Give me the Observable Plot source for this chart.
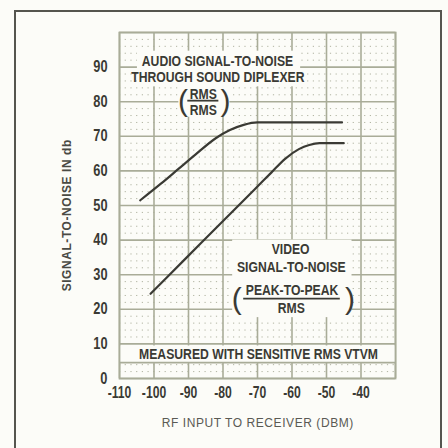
<!DOCTYPE html>
<html>
<head>
<meta charset="utf-8">
<script src="https://cdn.jsdelivr.net/npm/d3@7"></script>
<script src="https://cdn.jsdelivr.net/npm/@observablehq/plot@0.6"></script>
<style>
  html, body { margin: 0; padding: 0; background: #fcfcf8; }
  #chart { width: 448px; height: 448px; }
</style>
</head>
<body>
<div id="chart"></div>
<script>
// ---- data ----
const xTickValues = [-110, -100, -90, -80, -70, -60, -50, -40];
const yTickValues = [0, 10, 20, 30, 40, 50, 60, 70, 80, 90];

// Audio S/N through sound diplexer (RMS/RMS)
const audioRf = [-104, -98, -93, -88, -82, -78, -74, -70, -60, -45.5];
const audioSn = [51.5, 56.3, 60.5, 64.7, 69.5, 71.8, 73.3, 74, 74, 74];

// Video S/N (peak-to-peak / RMS)
const videoRf = [-101, -91, -81, -71, -66, -62, -58, -55, -52, -45];
const videoSn = [24.5, 34.5, 44.5, 54.5, 59.5, 63.5, 66.3, 67.5, 68, 68];

// annotation text lines and their anchors (data units)
const noteText = ["AUDIO SIGNAL-TO-NOISE", "THROUGH SOUND DIPLEXER", "RMS", "RMS",
                  "VIDEO", "SIGNAL-TO-NOISE", "PEAK-TO-PEAK", "RMS",
                  "MEASURED WITH SENSITIVE RMS VTVM"];
const noteX = [-81.6, -81.5, -85.7, -85.7, -60.4, -60.2, -60.0, -60.2, -69.7];
const noteY = [91.8, 86.9, 82.2, 77.6, 37.2, 32.0, 25.4, 20.2, 7.1];
const axisTitles = ["SIGNAL-TO-NOISE IN db", "RF INPUT TO RECEIVER (DBM)"];

// parentheses around the two ratios
const parenText = ["(", ")", "(", ")"];
const parenX = [-91.6, -79.3, -76.0, -43.2];
const parenY = [80.0, 80.0, 22.8, 22.8];

// fraction bars
const barX1 = [-90.2, -74.0];
const barX2 = [-81.2, -46.0];
const barY = [80.3, 23.1];

// blank (white) label areas on the grid paper
const boxX1 = [-104.8, -92.8, -77.2, -110];
const boxX2 = [-57.5, -78.0, -42.6, -30];
const boxY1 = [84.3, 75.5, 17.6, 4.6];
const boxY2 = [94.6, 84.5, 40.0, 9.4];

// ---- tables built from the arrays ----
const audio = audioRf.map((x, i) => ({x, y: audioSn[i]}));
const video = videoRf.map((x, i) => ({x, y: videoSn[i]}));
const notes = noteText.map((t, i) => ({t, x: noteX[i], y: noteY[i]}));
const parens = parenText.map((t, i) => ({t, x: parenX[i], y: parenY[i]}));
const bars = barY.map((y, i) => ({x1: barX1[i], x2: barX2[i], y}));
const boxes = boxX1.map((x1, i) => ({x1, x2: boxX2[i], y1: boxY1[i], y2: boxY2[i]}));
const minorY = d3.range(2, 100, 2).filter(v => v % 10 !== 0);
const majorX = d3.range(-110, -29, 10);
const majorY = d3.range(0, 101, 10);

const FONT = "'Liberation Sans', Arial, sans-serif";
const gridColor = "#a9ac98";
const ink = "#3a3a34";

const chart = Plot.plot({
  width: 448,
  height: 448,
  marginLeft: 119,
  marginRight: 53,
  marginTop: 32,
  marginBottom: 70,
  style: {background: "#fcfcf8", fontFamily: FONT, fontWeight: "bold", color: ink, fontSize: "13px"},
  x: {domain: [-110, -30]},
  y: {domain: [0, 100]},
  marks: [
    Plot.ruleY(minorY, {stroke: gridColor, strokeWidth: 1, strokeDasharray: "1.2,4.5", strokeOpacity: 0.9}),
    Plot.ruleX(majorX, {stroke: gridColor, strokeWidth: 1.6}),
    Plot.ruleY(majorY, {stroke: gridColor, strokeWidth: 1.6}),
    Plot.rect(boxes, {x1: "x1", x2: "x2", y1: "y1", y2: "y2", fill: "#fcfcf8"}),
    Plot.ruleY([boxY1[3]], {stroke: gridColor, strokeWidth: 1.6}),
    Plot.frame({stroke: gridColor, strokeWidth: 1.8}),
    Plot.line(audio, {x: "x", y: "y", curve: "monotone-x", stroke: ink, strokeWidth: 2.2}),
    Plot.line(video, {x: "x", y: "y", curve: "monotone-x", stroke: ink, strokeWidth: 2.2}),
    Plot.text(notes, {x: "x", y: "y", text: "t", fill: ink, fontSize: 14.5, fontWeight: "bold"}),
    Plot.text(parens, {x: "x", y: "y", text: "t", fill: ink, fontSize: 30, fontWeight: "normal"}),
    Plot.ruleY(bars, {x1: "x1", x2: "x2", y: "y", stroke: ink, strokeWidth: 1.8}),
    Plot.axisX(xTickValues, {tickSize: 0, tickPadding: 8, tickFormat: d => String(d), fontSize: 16, fill: ink, label: null}),
    Plot.axisY(yTickValues, {tickSize: 0, tickPadding: 12, tickFormat: d => String(d), fontSize: 16, fill: ink, label: null}),
    Plot.text([axisTitles[0]], {frameAnchor: "left", textAnchor: "middle", lineAnchor: "middle", dx: -52, dy: 10, rotate: -90, fill: "#4a4a44", fontSize: 12, fontWeight: "bold"}),
    Plot.text([axisTitles[1]], {frameAnchor: "bottom", textAnchor: "middle", lineAnchor: "middle", dy: 45, fill: "#5a5a54", fontSize: 12, fontWeight: "normal"})
  ]
});

// outer page border of the scanned figure
d3.select(chart).append("rect")
  .attr("x", 15).attr("y", 11).attr("width", 426).attr("height", 440)
  .attr("fill", "none").attr("stroke", "#55554f").attr("stroke-width", 2);

document.getElementById("chart").append(chart);

// narrow (or widen) the lettering like the condensed type of the original
function fit(els, s, mode) {
  els.forEach(el => {
    const L = el.getComputedTextLength();
    if (!L) return;
    el.setAttribute("textLength", (L * s).toFixed(2));
    el.setAttribute("lengthAdjust", mode);
  });
}
const allText = Array.from(chart.querySelectorAll("text"));
fit(Array.from(chart.querySelectorAll('g[aria-label="x-axis tick label"] text')), 0.76, "spacingAndGlyphs");
fit(Array.from(chart.querySelectorAll('g[aria-label="y-axis tick label"] text')), 0.8, "spacingAndGlyphs");
fit(allText.filter(el => noteText.includes(el.textContent)), 0.84, "spacingAndGlyphs");
fit(allText.filter(el => axisTitles.includes(el.textContent)), 1.08, "spacing");
</script>
</body>
</html>
